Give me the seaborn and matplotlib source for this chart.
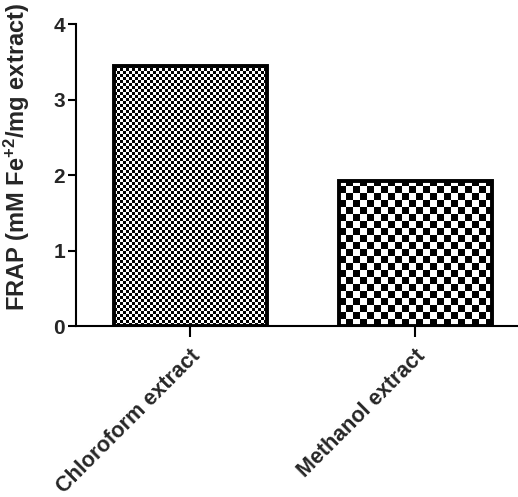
import matplotlib
matplotlib.use('Agg')
import matplotlib.pyplot as plt
import seaborn as sns
import numpy as np
import pandas as pd

categories = ['Chloroform extract', 'Methanol extract']
frap_values = [3.44, 1.92]
y_ticks = [0, 1, 2, 3, 4]
y_label = r'FRAP (mM Fe$^{+2}$/mg extract)'

sns.set_style('ticks')
plt.rcParams['font.family'] = ['Liberation Sans', 'DejaVu Sans']
plt.rcParams['mathtext.fontset'] = 'custom'
plt.rcParams['mathtext.bf'] = 'Liberation Sans:bold'
plt.rcParams['mathtext.rm'] = 'Liberation Sans:bold'
plt.rcParams['mathtext.default'] = 'bf'

fig = plt.figure(figsize=(5.18, 4.97), dpi=100)
ax = fig.add_axes([0.147, 0.344, 0.851, 0.6076])
df = pd.DataFrame({'cat': categories, 'val': frap_values})
sns.barplot(data=df, x='cat', y='val', ax=ax, width=0.68, color='white',
            edgecolor='black', linewidth=2.8, saturation=1, zorder=3)
xlim = (-0.507, 1.453)
ax.set_xlim(*xlim)
ax.set_ylim(0, 4)

# checkerboard textures clipped to bars
cells = [3, 7]
fig.canvas.draw()
for patch, cell in zip(ax.patches, cells):
    x0, y0 = patch.get_x(), patch.get_y()
    w, h = patch.get_width(), patch.get_height()
    p0 = ax.transData.transform((x0, y0))
    p1 = ax.transData.transform((x0 + w, y0 + h))
    wpx, hpx = p1[0] - p0[0], p1[1] - p0[1]
    ncol = int(np.ceil(wpx / cell))
    nrow = int(np.ceil(hpx / cell))
    arr = np.add.outer(np.arange(nrow), np.arange(ncol)) % 2
    dx = w * cell * ncol / wpx
    dy = h * cell * nrow / hpx
    im = ax.imshow(arr, cmap='gray_r', vmin=0, vmax=1, interpolation='nearest',
                   extent=(x0, x0 + dx, y0, y0 + dy), origin='lower',
                   aspect='auto', zorder=2)
    im.set_clip_path(patch)
    patch.set_facecolor('none')
ax.set_xlim(*xlim)
ax.set_ylim(0, 4)

sns.despine(ax=ax)
for s in ['left', 'bottom']:
    ax.spines[s].set_linewidth(1.5)
    ax.spines[s].set_color('black')
ax.set_yticks(y_ticks)
ax.set_yticklabels([str(t) for t in y_ticks], fontsize=15, fontweight='bold')
ax.tick_params(axis='y', length=6, width=1.5, color='black', pad=2)
ax.tick_params(axis='x', length=8, width=1.5, color='black', pad=6)
ax.set_xticks(range(len(categories)))
ax.set_xticklabels(categories, rotation=45, ha='right', va='top',
                   rotation_mode='anchor', fontsize=15.5, fontweight='bold')
ax.set_xlabel('')
ax.set_ylabel(y_label, fontsize=17, fontweight='bold')
ax.yaxis.set_label_coords(-0.10, 0.56)

fig.savefig('out.png', dpi=100)
